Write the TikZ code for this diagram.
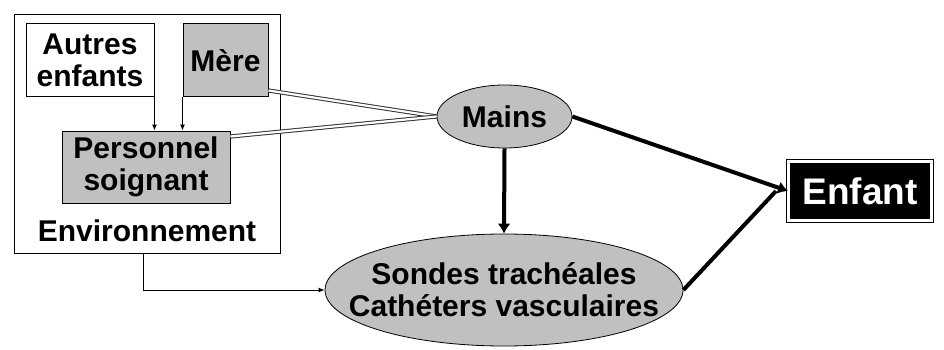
\documentclass[tikz,border=0pt]{standalone}
\usepackage{fontspec}
\setmainfont{Liberation Sans}
\usetikzlibrary{positioning,arrows.meta,shapes.geometric}

\definecolor{boxgray}{RGB}{192,192,192}

\begin{document}
\begin{tikzpicture}[
        x=1pt, y=-1pt,
        >={Latex[length=7pt,width=6pt]},
        txt/.style={
            font=\fontsize{30}{32}\selectfont\bfseries,
            align=center,
            inner sep=0pt
        },
        box/.style={
            txt,
            rectangle,
            draw=black,
            line width=1pt
        },
        blob/.style={
            txt,
            ellipse,
            draw=black,
            fill=boxgray,
            line width=0.8pt
        },
        hand/.style={
            draw=black!80,
            double=white,
            double distance=2.2pt,
            line width=1pt
        },
        thin/.style={->,line width=1pt,>={Latex[length=6pt,width=5pt]}},
        heavy/.style={->,line width=4pt,>={Latex[length=10pt,width=13pt]}}
    ]

    \useasboundingbox (0,0) rectangle (944,350);

    % environnement
    \node[box, minimum width=266pt, minimum height=238pt] (env) at (147,134) {};
    \node[txt] (envlabel) at (147,231) {Environnement};

    \node[box, fill=white, minimum width=128pt, minimum height=73pt] (autres) at (90,60.5) {Autres\\enfants};
    \node[box, fill=boxgray, minimum width=85pt, minimum height=73pt] (mere) at (225.5,60.5) {Mère};
    \node[box, fill=boxgray, minimum width=168pt, minimum height=72pt] (pers) at (146,167) {Personnel\\soignant};

    % mains et dispositifs
    \node[blob, minimum width=135pt, minimum height=63pt] (mains) at (504.5,116.5) {Mains};
    \node[blob, inner xsep=-40pt, minimum width=358pt, minimum height=112pt] (sondes) at (504,290) {Sondes trachéales\\Cathéters vasculaires};

    \node[txt, rectangle, font=\fontsize{37}{40}\selectfont\bfseries, text=white,
          fill=black, draw=black, double=white, double distance=2.5pt, line width=1pt,
          minimum width=143pt, minimum height=59pt] (enfant) at (860,191) {Enfant};

    \coordinate (join) at ([xshift=-12pt]enfant.west);

    \draw[thin] (autres.south east) -- (autres.south east |- pers.north);
    \draw[thin] (mere.south west) -- (mere.south west |- pers.north);

    \draw[hand] ([yshift=7pt]mere.south east) -- (mains.west);
    \draw[hand] ([yshift=-6pt]pers.north east) -- (mains.west);

    \draw[heavy] (mains.south) -- (sondes.north);
    \draw[heavy] (mains.east) -- (enfant.west);
    \draw[line width=4pt] (sondes.east) -- (join);

    \draw[thin] (env.south -| 143,0) |- (sondes.west);

    \end{tikzpicture}
\end{document}
